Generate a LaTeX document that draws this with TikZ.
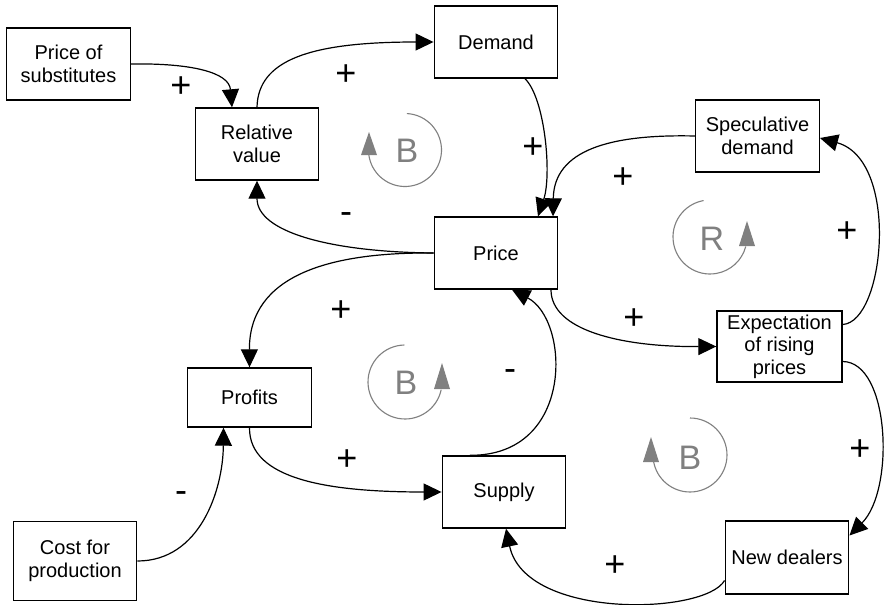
\documentclass[tikz,border=0pt]{standalone}
\usepackage{fontspec}
\setmainfont{Liberation Sans}
\usetikzlibrary{arrows.meta,calc}

\tikzset{
  box/.style={draw, line width=0.7pt, align=center, inner sep=0pt,
    minimum width=61.75pt, minimum height=36pt,
    font=\fontsize{10}{11.2}\selectfont},
  link/.style={line width=0.6pt, -{Triangle[length=9pt,width=8.5pt]}},
  sign/.style={inner sep=0pt, font=\fontsize{18}{18}\selectfont},
  loop/.style={draw=gray, line width=0.55pt},
  looptip/.style={fill=gray},
  looplbl/.style={inner sep=0pt, text=gray, font=\fontsize{17}{17}\selectfont}
}

\begin{document}
\begin{tikzpicture}[x=0.5pt, y=0.5pt]
\fill[white] (0,0) rectangle (885,-605);
\useasboundingbox (0,0) rectangle (885,-605);

% variables
\node[box] (pos) at (68.5,-64) {Price of\\substitutes};
\node[box] (relv) at (257,-144) {Relative\\value};
\node[box] (demand) at (496,-42) {Demand};
\node[box] (spec) at (757.5,-136) {Speculative\\demand};
\node[box] (price) at (496,-253) {Price};
\node[box, minimum width=62.5pt, minimum height=35.5pt] (expect) at (779.5,-346.5) {Expectation\\of rising\\prices};
\node[box, minimum height=29.5pt] (profits) at (249.5,-397.5) {Profits};
\node[box] (supply) at (504,-492) {Supply};
\node[box, minimum height=39.5pt] (cost) at (75,-561) {Cost for\\production};
\node[box, minimum height=36.5pt] (dealers) at (787,-557.5) {New dealers};

% causal links
\draw[link] (pos.east) .. controls (190,-63) and (229,-72) .. ($(relv.north)+(-25,0)$);
\draw[link] (relv.north) .. controls (258,-60) and (310,-42) .. (demand.west);
\draw[link] ($(demand.south)+(29,0)$) .. controls (545,-98) and (552,-175) .. ($(price.north)+(42,0)$);
\draw[link] (spec.west) .. controls (610,-134) and (554,-150) .. ($(price.north)+(57,0)$);
\draw[link] (price.west) .. controls (330,-252) and (257,-232) .. (relv.south);
\draw[link] (price.west) .. controls (330,-252) and (249,-275) .. (profits.north);
\draw[link] ($(price.south)+(55,0)$) .. controls (551,-330) and (620,-347) .. (expect.west);
\draw[link] ($(supply.north)+(-34,0)$) .. controls (575,-456) and (570,-320) .. ($(price.south)+(16,0)$);
\draw[link] (profits.south) .. controls (249,-480) and (330,-492) .. (supply.west);
\draw[link] (cost.east) .. controls (200,-561) and (223,-490) .. ($(profits.south)+(-26,0)$);
\draw[link] ($(expect.east)+(0,22)$) .. controls (885,-322) and (900,-160) .. ($(spec.east)+(0,-2)$);
\draw[link] ($(expect.east)+(0,-15)$) .. controls (890,-362) and (895,-490) .. ($(dealers.east)+(0,22)$);
\draw[link] ($(dealers.west)+(0,-23)$) .. controls (705,-615) and (525,-620) .. ($(supply.south)+(2,0)$);

% link polarities
\node[sign] (s1) at (181,-87) {+};
\node[sign] (s2) at (346,-75) {+};
\node[sign] (s3) at (533,-148) {+};
\node[sign] (s4) at (346,-218) {-};
\node[sign] (s5) at (623,-178) {+};
\node[sign] (s6) at (847,-232) {+};
\node[sign] (s7) at (341,-311) {+};
\node[sign] (s8) at (634,-319) {+};
\node[sign] (s9) at (510,-375) {-};
\node[sign] (s10) at (347,-460) {+};
\node[sign] (s11) at (181,-497) {-};
\node[sign] (s12) at (860,-450) {+};
\node[sign] (s13) at (615,-566) {+};

% loop markers
\draw[loop] (405,-150) ++(87:18.25pt) arc[start angle=87, end angle=-172, radius=18.25pt];
\fill[looptip] (361,-155) -- (377,-155) -- (369,-132) -- cycle;
\node[looplbl] (l1) at (407,-151) {B};

\draw[loop] (710,-237) ++(100:18.5pt) arc[start angle=100, end angle=345, radius=18.5pt];
\fill[looptip] (739,-246) -- (755,-246) -- (747,-221) -- cycle;
\node[looplbl] (l2) at (712,-239) {R};

\draw[loop] (405,-382) ++(91:18.5pt) arc[start angle=91, end angle=348, radius=18.5pt];
\fill[looptip] (434,-389) -- (450,-389) -- (442,-363) -- cycle;
\node[looplbl] (l3) at (406,-383) {B};

\draw[loop] (690,-455) ++(90:18.5pt) arc[start angle=90, end angle=-169, radius=18.5pt];
\fill[looptip] (643,-462) -- (659,-462) -- (651,-437) -- cycle;
\node[looplbl] (l4) at (690,-458) {B};
\end{tikzpicture}
\end{document}
